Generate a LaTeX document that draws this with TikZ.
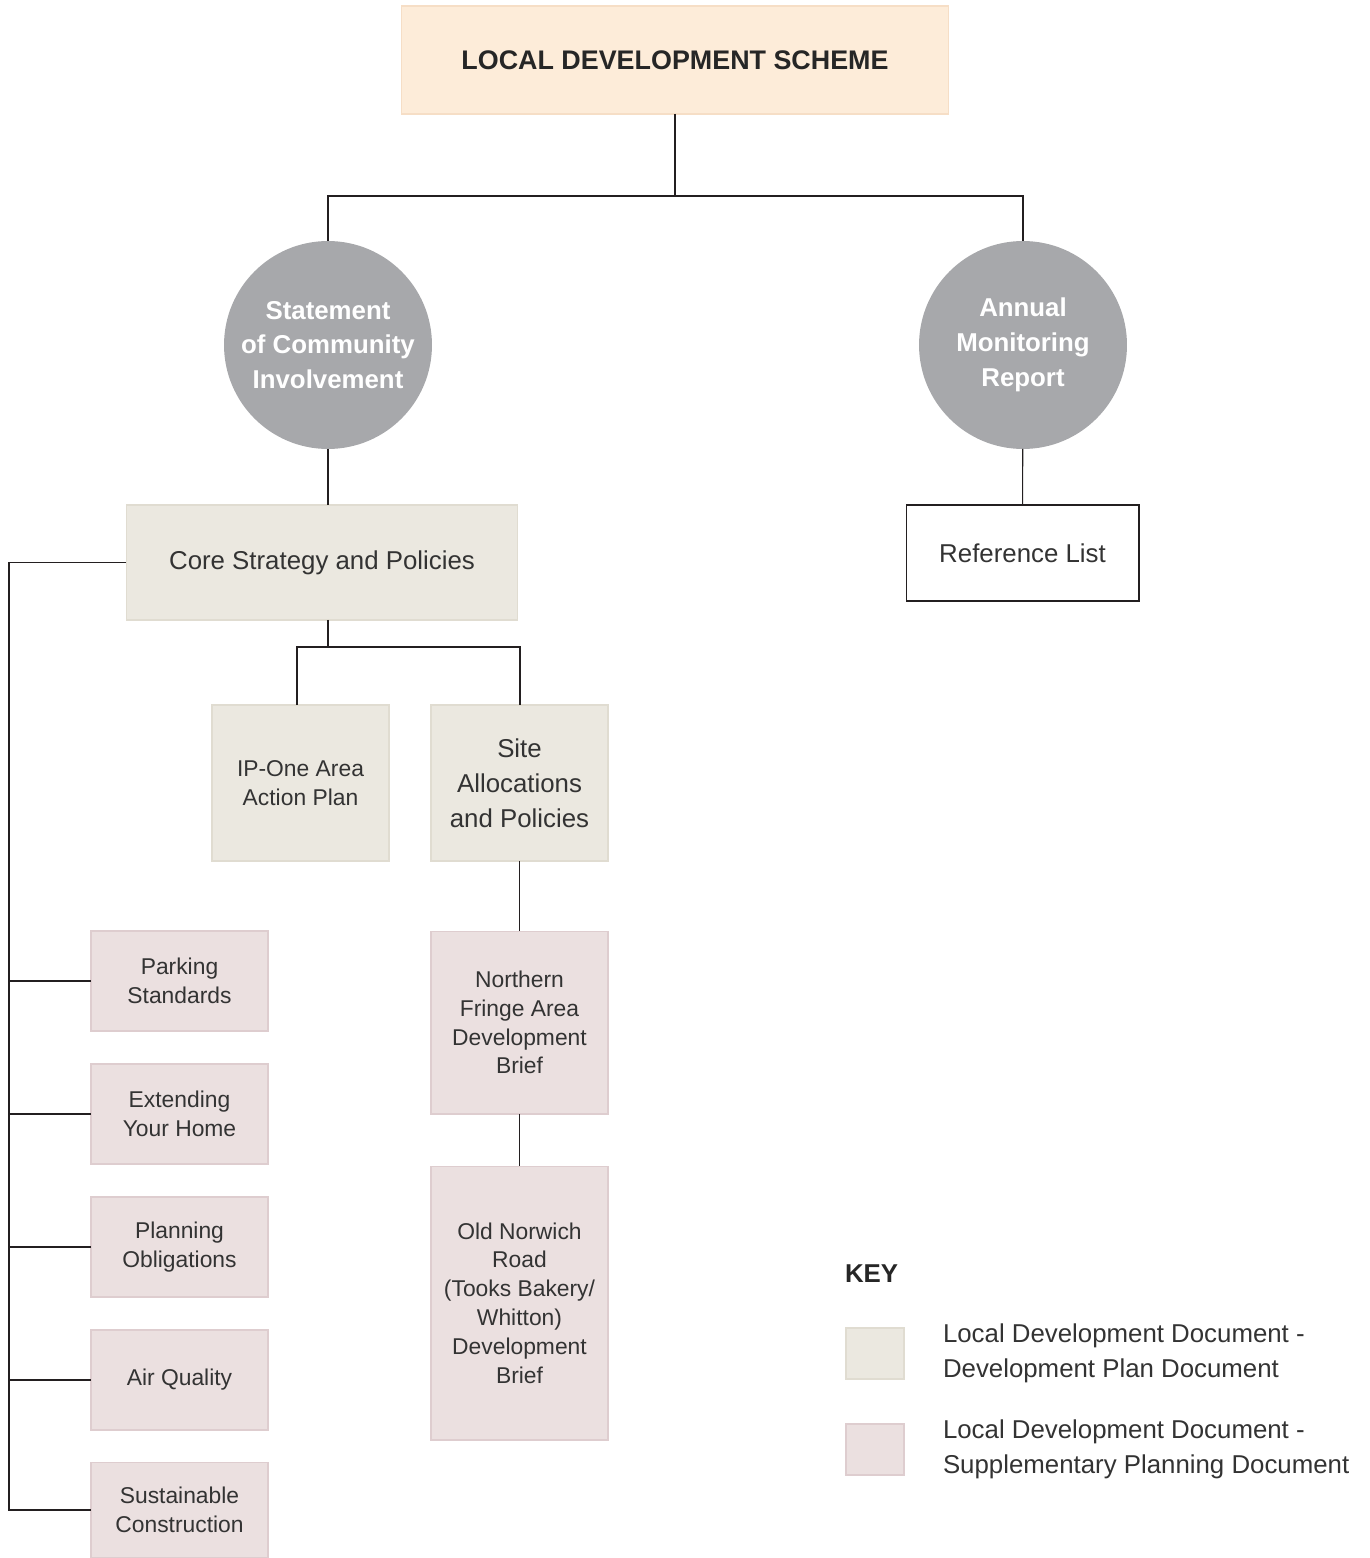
\documentclass[tikz,border=0pt]{standalone}
\usepackage{fontspec}
\setmainfont{Liberation Sans}
\definecolor{topfill}{HTML}{FDECD9}
\definecolor{topline}{HTML}{F6DEC6}
\definecolor{dpdfill}{HTML}{EBE8E0}
\definecolor{dpdline}{HTML}{E0DCD1}
\definecolor{spdfill}{HTML}{EBE0E0}
\definecolor{spdline}{HTML}{DECDCF}
\definecolor{circfill}{HTML}{A7A8AB}
\definecolor{txt}{HTML}{333333}
\definecolor{conn}{HTML}{231F20}
\newcommand{\bigtxt}{\fontsize{14.7}{19.8}\selectfont}
\newcommand{\smalltxt}{\fontsize{13}{16.4}\selectfont}
\newcommand{\titletxt}{\fontsize{15.3}{19.8}\selectfont}
\begin{document}
\begin{tikzpicture}[x=0.02cm,y=-0.02cm,
  every node/.style={inner sep=0pt,outer sep=0pt,text=txt,align=center},
  ldsbox/.style={rectangle,fill=topfill,draw=topline,line width=0.6pt,font=\titletxt\bfseries,text=black!85},
  dpdbox/.style={rectangle,fill=dpdfill,draw=dpdline,line width=0.6pt},
  spdbox/.style={rectangle,fill=spdfill,draw=spdline,line width=0.6pt,font=\smalltxt},
  circnode/.style={circle,fill=circfill,minimum size=4.16cm,font=\bigtxt\bfseries,text=white},
  refbox/.style={rectangle,fill=white,draw=conn,line width=0.6pt,font=\bigtxt},
  conn/.style={draw=conn,line width=0.6pt}
]
\useasboundingbox (0,0) rectangle (1369,1558);
% top
\node[ldsbox,minimum width=10.96cm,minimum height=2.16cm] (lds) at (675,60) {LOCAL DEVELOPMENT SCHEME};
% circles
\node[circnode] (sci) at (328,345) {Statement\\of Community\\Involvement};
\node[circnode] (amr) at (1023,345) {Annual\\Monitoring\\Report};
% second level
\node[dpdbox,minimum width=7.84cm,minimum height=2.3cm,font=\bigtxt] (core) at (322,562.5) {Core Strategy and Policies};
\node[refbox,minimum width=4.66cm,minimum height=1.92cm] (ref) at (1022.5,553) {Reference List};
% third level
\node[dpdbox,minimum width=3.54cm,minimum height=3.12cm,font=\smalltxt] (ip) at (300.5,783) {IP-One Area\\Action Plan};
\node[dpdbox,minimum width=3.54cm,minimum height=3.12cm,font=\bigtxt] (site) at (519.5,783) {Site\\Allocations\\and Policies};
\node[spdbox,minimum width=3.54cm,minimum height=3.66cm] (north) at (519.5,1022.5) {Northern\\Fringe Area\\Development\\Brief};
\node[spdbox,minimum width=3.54cm,minimum height=5.48cm] (old) at (519.5,1303) {Old Norwich\\Road\\(Tooks Bakery/\\Whitton)\\Development\\Brief};
% left SPDs
\node[spdbox,minimum width=3.54cm,minimum height=2cm] (park) at (179.5,981) {Parking\\Standards};
\node[spdbox,minimum width=3.54cm,minimum height=2cm] (ext) at (179.5,1114) {Extending\\Your Home};
\node[spdbox,minimum width=3.54cm,minimum height=2cm] (plan) at (179.5,1247) {Planning\\Obligations};
\node[spdbox,minimum width=3.54cm,minimum height=2cm] (air) at (179.5,1380) {Air Quality};
\node[spdbox,minimum width=3.54cm,minimum height=1.92cm] (sus) at (179.5,1510) {Sustainable\\Construction};
% connectors
\coordinate (j1) at (675,196);
\coordinate (j2) at (328,647);
\coordinate (ipTop) at (297,705);
\coordinate (siteTop) at (520,705);
\coordinate (lbEnd) at (9,1510);
\draw[conn] (lds) -- (j1);
\draw[conn] (j1) -| (sci.north);
\draw[conn] (j1) -| (amr.north);
\draw[conn] (sci.south) -- (sci.south |- core.north);
\draw[conn] (amr) -- (ref);
\draw[conn] (j2 |- core.south) -- (j2);
\draw[conn] (j2) -| (ipTop);
\draw[conn] (j2) -| (siteTop);
\draw[conn] (site) -- (north);
\draw[conn] (north) -- (old);
\draw[conn] (core.west) -- (core.west -| lbEnd) -- (lbEnd) -- (sus.west);
\draw[conn] (lbEnd |- park.west) -- (park.west);
\draw[conn] (lbEnd |- ext.west) -- (ext.west);
\draw[conn] (lbEnd |- plan.west) -- (plan.west);
\draw[conn] (lbEnd |- air.west) -- (air.west);
% key
\node[anchor=west,font=\bigtxt\bfseries,text=black!85] (keyt) at (845,1274) {KEY};
\node[dpdbox,minimum width=1.16cm,minimum height=1.02cm] (k1) at (875,1353.5) {};
\node[spdbox,minimum width=1.16cm,minimum height=1.02cm] (k2) at (875,1449.5) {};
\node[anchor=west,font=\bigtxt,align=left] (k1t) at (943,1353.5) {Local Development Document -\\Development Plan Document};
\node[anchor=west,font=\bigtxt,align=left] (k2t) at (943,1449.5) {Local Development Document -\\Supplementary Planning Document};
\end{tikzpicture}
\end{document}
